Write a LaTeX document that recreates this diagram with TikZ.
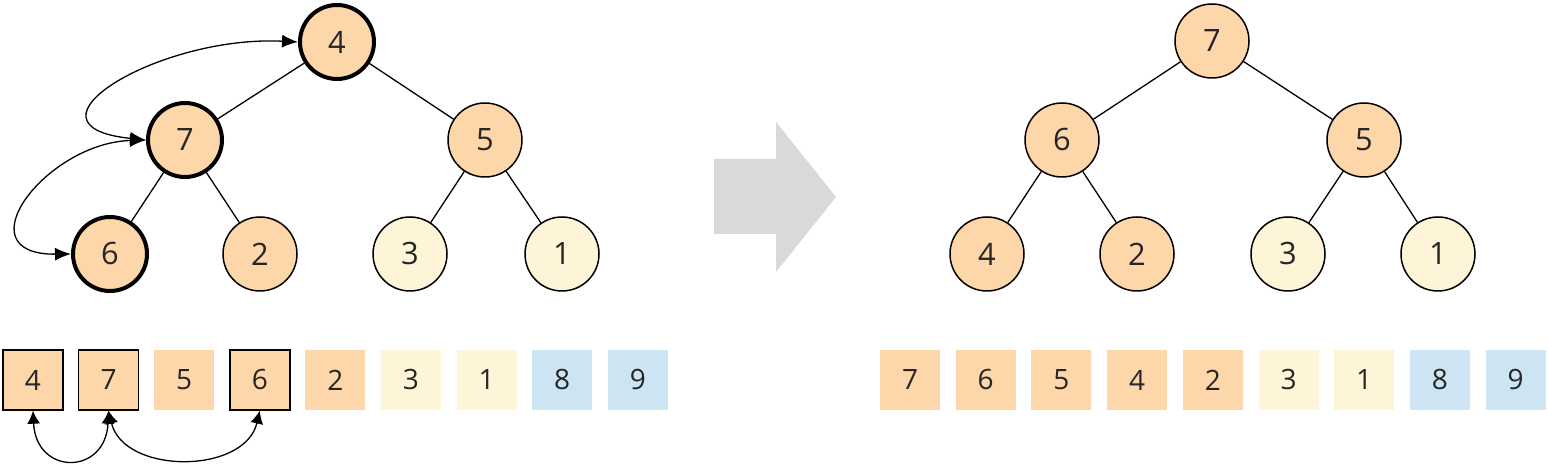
\documentclass[tikz,border=0pt]{standalone}
\usepackage{fontspec}
\setmainfont{Open Sans}
\usepackage{tikz}
\usetikzlibrary{calc, positioning, arrows, arrows.meta}
\definecolor{peach}{HTML}{FDD6A9}
\definecolor{cream}{HTML}{FEF4D8}
\definecolor{sky}{HTML}{CDE5F3}
\definecolor{ink}{HTML}{262626}
\definecolor{arrowgray}{HTML}{D9D9D9}
\tikzstyle{hnd}=[inner sep=0pt, draw, shape=circle, minimum size=37pt, line width=0.75pt, text=ink, font=\fontsize{15.4}{18}\selectfont]
\tikzstyle{cell}=[inner sep=0pt, shape=rectangle, minimum size=30pt, text=ink, font=\fontsize{14}{17}\selectfont]
\tikzstyle{swp}=[line width=2pt]
\tikzstyle{stay}=[]
\tikzstyle{boxed}=[draw, line width=0.7pt]
\tikzstyle{bare}=[]
\tikzstyle{link}=[line width=0.65pt]
\tikzset{>={Latex[length=8pt, width=6.5pt]}}

\begin{document}
\begin{tikzpicture}[x=0.5pt, y=-0.5pt]
\useasboundingbox (0,0) rectangle (1548,464);
% tree before
\foreach \j/\v/\x/\y/\c/\s in {1/4/337/42/peach/swp, 2/7/185/140/peach/swp, 3/5/485/140/peach/stay, 4/6/110/254/peach/swp, 5/2/260/254/peach/stay, 6/3/410/254/cream/stay, 7/1/562/254/cream/stay}
{
\node[hnd, fill=\c, \s] (a\j) at (\x,\y) {\v};
}
% tree after
\foreach \j/\v/\x/\y/\c in {1/7/1212/41/peach, 2/6/1062/140/peach, 3/5/1364/140/peach, 4/4/987/254/peach, 5/2/1137/254/peach, 6/3/1288/254/cream, 7/1/1438/254/cream}
{
\node[hnd, fill=\c] (b\j) at (\x,\y) {\v};
}
\foreach \p/\q in {1/2, 1/3, 2/4, 2/5, 3/6, 3/7}
{
\draw[link] (a\p) -- (a\q);
\draw[link] (b\p) -- (b\q);
}
%
\draw[link, <->] (a1.west) .. controls +(-140,-7) and +(-136,-14) .. (a2.west);
\draw[link, <->] (a2.west) .. controls +(-100,3) and +(-110,1) .. (a4.west);
%
\fill[arrowgray] (714,159) -- (776,159) -- (776,122) -- (836,197) -- (776,272) -- (776,234) -- (714,234) -- cycle;
%
% arrays
\foreach \j/\v/\c/\s in {1/4/peach/boxed, 2/7/peach/boxed, 3/5/peach/bare, 4/6/peach/boxed, 5/2/peach/bare, 6/3/cream/bare, 7/1/cream/bare, 8/8/sky/bare, 9/9/sky/bare}
{
\node[cell, fill=\c, \s] (p\j) at ({33+75.6*(\j-1)},380) {\v};
}
\foreach \j/\v/\c in {1/7/peach, 2/6/peach, 3/5/peach, 4/4/peach, 5/2/peach, 6/3/cream, 7/1/cream, 8/8/sky, 9/9/sky}
{
\node[cell, fill=\c] (q\j) at ({910+75.7*(\j-1)},380) {\v};
}
%
\draw[link, <->, >={Latex[length=6.5pt, width=6.5pt]}] (p1.south) .. controls +(3,65) and +(-3,65) .. (p2.south);
\draw[link, <->, >={Latex[length=6.5pt, width=6.5pt]}] (p2.south) .. controls +(15,64) and +(-15,64) .. (p4.south);
%
\end{tikzpicture}
\end{document}
